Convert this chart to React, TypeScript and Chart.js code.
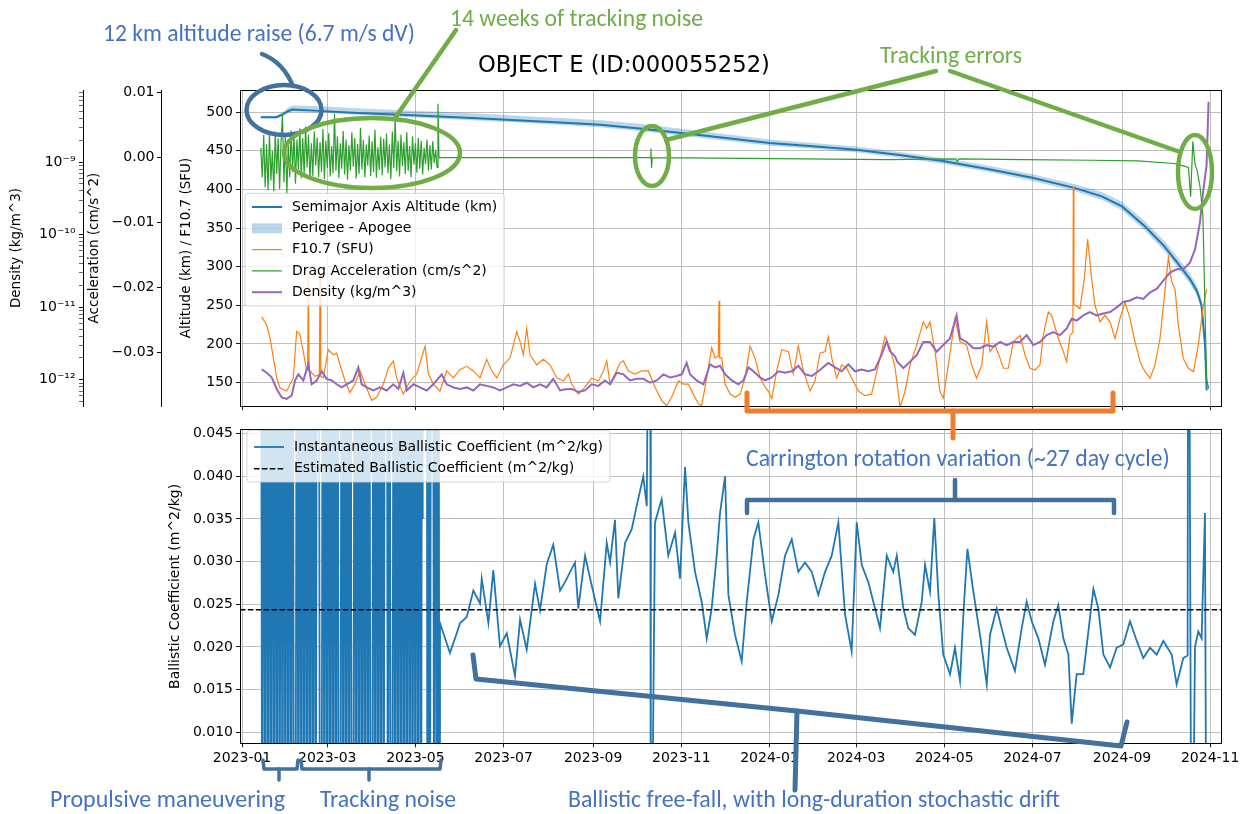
import React, { useEffect, useRef } from 'react';
import { Chart, registerables } from 'chart.js';

Chart.register(...registerables);

const MPL = "'DejaVu Sans', 'Liberation Sans', sans-serif";
const ANN = "Carlito, Lato, 'Open Sans', sans-serif";
const GRID = '#b8b8b8';

// x axis: days since 2023-01-01
const X_MIN = -1.4;
const X_MAX = 677.5;
const tickDays = [0, 59, 120, 181, 243, 304, 365, 425, 486, 547, 609, 670];
const tickLabels = ['2023-01', '2023-03', '2023-05', '2023-07', '2023-09', '2023-11', '2024-01', '2024-03', '2024-05', '2024-07', '2024-09', '2024-11'];

const altTicks = [150, 200, 250, 300, 350, 400, 450, 500];
const accTicks = [-0.03, -0.02, -0.01, 0, 0.01];
const bcTicks = [0.01, 0.015, 0.02, 0.025, 0.03, 0.035, 0.04, 0.045];
const denTickLabels: Record<string, string> = { '-12': '10⁻¹²', '-11': '10⁻¹¹', '-10': '10⁻¹⁰', '-9': '10⁻⁹' };

// Semimajor axis altitude and perigee/apogee (km)
const altDays = [13, 24, 28, 32, 35, 50, 80, 110, 137, 170, 200, 230, 248, 275, 304, 335, 365, 395, 425, 455, 486, 516, 547, 576, 595, 609, 625, 638, 647, 656, 661, 664, 666.4, 667.6];
const altSMA = [493.5, 493.5, 497, 501.5, 503.5, 502, 499, 496.5, 494.3, 491.5, 488.5, 485.5, 483.7, 479, 473, 466.5, 460, 456, 451.5, 444.5, 436.5, 426.5, 415, 402, 391, 378, 352, 327, 306, 284, 268, 250, 200, 140];
const altApogee = [495, 495.5, 500, 506, 508.5, 508, 505, 502.5, 500.5, 497.5, 494.5, 491.5, 489.5, 485, 478.5, 471.5, 464.5, 460, 455.5, 448.5, 440.5, 431, 419.5, 407, 396.5, 384, 358.5, 334, 313, 291, 275, 257, 208, 148];
const altPerigee = [492, 492, 494.5, 499, 501, 499.5, 496.5, 494, 491.5, 488.5, 485.5, 482.5, 480.5, 475.5, 469.5, 463, 456.5, 452.5, 448, 441, 433, 423, 411, 398, 386.5, 373, 346.5, 321, 300, 278, 262, 244, 193, 133];

// F10.7 (SFU)
const f107Days = [13.6, 17.1, 19.4, 21.7, 24, 26.3, 30.9, 35.5, 37.8, 40.1, 42.4, 44.7, 45.4, 45.9, 46.4, 47, 50.5, 53.5, 54, 54.5, 56.3, 59.7, 63.2, 65.5, 67.8, 71.3, 74.7, 78.2, 81.7, 85.1, 89.7, 93.2, 97.8, 101.3, 104.7, 107, 111.6, 116.3, 120.9, 126.7, 129, 132.4, 137, 141.6, 146.3, 150.9, 155.5, 160.1, 164.7, 169.3, 172.8, 176.3, 180.9, 185.5, 190.1, 192.4, 194.7, 197, 199.3, 203.9, 208.5, 213.1, 217.8, 222.4, 225.9, 228.1, 232.7, 237.4, 242, 246.6, 250.1, 252.4, 254.7, 258.1, 261.6, 263.9, 267.4, 272, 276.6, 281.2, 285.8, 290.4, 293.9, 297.3, 302, 305.4, 308.9, 312.3, 316, 318.1, 321.6, 325, 327.4, 329.6, 330.1, 330.6, 332, 334.3, 337.8, 341.2, 344.7, 348.1, 351.6, 355, 358.5, 362, 364.2, 366.6, 370, 373.5, 378.1, 381.5, 385, 388.5, 393.1, 396.5, 400, 403.5, 405.7, 408.1, 411.5, 415, 418.4, 421.9, 426.5, 431.1, 435.7, 440.4, 445, 448.4, 451.9, 455.4, 458.8, 462.3, 466.9, 471.5, 473.8, 476.1, 479.6, 483, 485.3, 488.8, 493.4, 496.9, 501.5, 504.9, 508.4, 511.9, 515.3, 517.6, 521.1, 524.6, 526.9, 530.3, 533.8, 538.4, 541.9, 545.3, 548.8, 552.2, 554.5, 558, 560.3, 564.9, 568.4, 570.7, 573, 575, 575.3, 575.7, 576.5, 579.9, 582.9, 585.2, 588, 590.3, 593.8, 597.2, 600.7, 604.2, 607.6, 611.1, 614.5, 618, 621.5, 624.9, 628.4, 631.8, 635.3, 638.8, 641.1, 643.4, 645.7, 648, 651.4, 654.9, 658.4, 661.8, 665.3, 667.6];
const f107Vals = [235, 224.5, 207, 182, 156, 143, 139, 156, 216, 212, 190, 165, 168, 290, 166, 165, 158, 160, 290, 158, 156, 192.5, 186, 188, 173, 152, 137, 148, 165, 148, 127, 131, 148, 169, 178, 156, 135, 152, 161, 197, 161, 148, 139, 165, 156, 167, 171, 165, 156, 180, 165, 156, 173, 182, 216, 203, 186, 220, 186, 173, 180, 173, 156, 152, 161, 148, 135, 144, 156, 152, 165, 178, 148, 161, 175.5, 178, 165, 161, 165, 165, 144, 127, 120, 131, 152, 148, 148, 135, 122, 120, 156, 195, 182, 184, 256, 182, 182, 148, 135, 131, 135, 156, 197, 182, 156, 144, 139, 129, 165, 192.5, 190, 161, 197, 165, 139, 152, 188, 190, 209.6, 182, 156, 173, 169, 156, 139, 133, 135, 173, 209.6, 195, 170, 118, 138.4, 172.7, 198.5, 228.5, 220, 228.5, 190, 138.4, 130, 172.7, 233, 202.8, 198.5, 172.7, 155.6, 172.7, 228.5, 190, 198.5, 181.3, 168.5, 168.5, 202.8, 211, 185.6, 168.5, 166.3, 172.7, 211, 241.3, 237, 207, 190, 177, 211, 215, 404, 252, 250, 245.6, 284, 335.7, 284, 250, 228.5, 237, 228.5, 207, 233, 254, 233, 202.8, 177, 164, 155.6, 172.7, 207, 271, 312, 280, 271, 224, 181, 168.5, 164, 198.5, 250, 271];

// Drag acceleration (cm/s^2)
const dragDays = [13, 14, 15, 16, 17, 18, 19, 20, 21, 22, 23, 24, 25, 26, 27, 28, 29, 30, 31, 32, 33, 34, 35, 36, 37, 38, 39, 40, 41, 42, 43, 44, 45, 46, 47, 48, 49, 50, 51, 52, 53, 54, 55, 56, 57, 58, 59, 60, 61, 62, 63, 64, 65, 66, 67, 68, 69, 70, 71, 72, 73, 74, 75, 76, 77, 78, 79, 80, 81, 82, 83, 84, 85, 86, 87, 88, 89, 90, 91, 92, 93, 94, 95, 96, 97, 98, 99, 100, 101, 102, 103, 104, 105, 106, 107, 108, 109, 110, 111, 112, 113, 114, 115, 116, 117, 118, 119, 120, 121, 122, 123, 124, 125, 126, 127, 128, 129, 130, 131, 132, 133, 134, 135, 135.6, 136.3, 282.5, 283, 283.4, 283.9, 350, 446, 494, 495, 496, 540, 588, 620, 645, 650, 655, 656.5, 658, 659.5, 661, 663, 665, 667.5, 669];
const dragVals = [0.0015, -0.003, 0.0035, -0.0045, 0.002, -0.005, 0.0038, -0.0035, 0.001, -0.0052, 0.004, -0.0025, 0.003, -0.0048, 0.0025, 0.0067, -0.0038, 0.0032, -0.0055, 0.002, -0.003, 0.0042, -0.0022, 0.0036, -0.004, 0.0028, -0.0018, 0.0045, -0.0032, 0.003, -0.0026, 0.0048, -0.0015, 0.0035, -0.0034, 0.0022, -0.0028, 0.004, -0.0012, 0.0031, -0.003, 0.0024, -0.0022, 0.0044, -0.0033, 0.0026, -0.0016, 0.0038, -0.0029, 0.0018, -0.0024, 0.0067, -0.002, 0.0033, -0.0031, 0.0022, -0.0017, 0.0041, -0.0026, 0.0028, -0.0034, 0.0019, -0.002, 0.0039, -0.0014, 0.003, -0.0032, 0.0021, -0.0025, 0.0046, -0.0018, 0.0027, -0.003, 0.002, -0.0012, 0.0034, -0.0028, 0.0025, -0.0022, 0.0043, -0.0031, 0.0016, -0.0019, 0.0032, -0.0027, 0.0029, -0.0015, 0.0037, -0.0024, 0.002, -0.0033, 0.004, -0.0016, 0.0061, -0.0021, 0.0026, -0.0029, 0.0035, -0.0013, 0.0024, -0.0025, 0.0039, -0.002, 0.0018, -0.003, 0.0033, -0.0011, 0.0022, -0.0023, 0.003, -0.0017, 0.0026, -0.0026, 0.0015, -0.001, 0.0028, -0.002, 0.0019, -0.0018, 0.0025, -0.0008, 0.0012, -0.0015, 0.0083, 0, 0, 0.0014, -0.0016, 0, -0.0001, -0.0003, -0.0002, -0.0006, -0.0002, -0.0003, -0.0004, -0.0005, -0.0009, -0.0012, -0.0015, -0.006, 0.0025, -0.001, -0.002, -0.0045, -0.009, -0.034, -0.0355];

// Density, in units of 1e-12 kg/m^3
const densDays = [13.6, 17.1, 20.5, 24, 27.5, 30.9, 34.4, 36.7, 39, 42.4, 45.9, 48.2, 51.7, 55.1, 58.6, 62.1, 65.5, 69, 72.4, 77, 80.5, 82.8, 86.3, 90.9, 95.5, 100.1, 104.7, 108.2, 111.6, 114, 118.6, 123.2, 127.8, 132.4, 138.2, 141.6, 146.3, 150.9, 155.5, 160.1, 164.7, 169.3, 173.9, 178.5, 183.2, 187.8, 192.4, 197, 201.6, 206.2, 210.8, 215.4, 220.1, 224, 228.1, 232.7, 237.4, 242, 246.6, 251.2, 254.7, 259.3, 263.9, 268.5, 273.1, 277.8, 282.4, 287, 291.6, 296.2, 300.8, 304.3, 307.7, 310, 314.6, 319.3, 323.9, 327.4, 330.8, 334.3, 338.9, 343.5, 347, 350.5, 353.9, 358.5, 362, 366.6, 371.2, 375.8, 380.4, 385, 389.6, 394.3, 398.8, 405.7, 410.4, 415, 419.6, 424.2, 428.8, 433.4, 438, 442.7, 446.1, 448.4, 451.9, 453.5, 457.7, 462.3, 466.9, 471.5, 476.1, 480.7, 485.3, 489.9, 494.5, 496.9, 501.5, 506.1, 510.7, 515.3, 519.9, 524.6, 529.2, 533.8, 538.4, 543, 547.6, 552.2, 556.9, 561.5, 566.1, 570.7, 574.2, 577.6, 582.2, 586.8, 591.4, 596.1, 600.7, 605.3, 609.9, 614.5, 619.2, 623.7, 628.4, 633, 637.6, 642.2, 646.8, 651.4, 656, 659.5, 662.9, 665.2, 667.5, 668.9];
const densE12 = [1.39, 1.25, 1.08, 0.748, 0.571, 0.545, 0.608, 0.979, 1.19, 0.979, 1.63, 0.867, 0.979, 1.31, 1.03, 0.979, 0.867, 0.785, 0.867, 0.979, 1.48, 0.867, 0.785, 0.713, 0.785, 0.713, 0.867, 0.748, 1.25, 0.713, 0.867, 0.785, 0.713, 0.867, 1.19, 0.867, 0.785, 0.748, 0.785, 0.713, 0.867, 0.824, 0.785, 0.713, 0.785, 0.867, 0.824, 0.91, 0.785, 0.867, 0.785, 1.03, 0.713, 0.74, 0.748, 0.679, 0.713, 0.867, 0.824, 0.979, 0.867, 1.25, 1.19, 0.979, 1.03, 1.03, 0.91, 0.979, 1.19, 1.08, 1.13, 1.19, 1.71, 1.19, 0.979, 0.867, 1.63, 1.48, 1.56, 1.19, 0.979, 0.867, 0.979, 1.48, 1.31, 1.08, 0.979, 1.08, 1.31, 1.25, 1.31, 1.56, 1.19, 1.13, 1.31, 1.71, 1.48, 1.31, 1.63, 1.31, 1.39, 1.31, 1.39, 2.24, 3.4, 2.47, 2.11, 1.78, 1.45, 1.78, 2.19, 3.32, 3.32, 2.44, 3.01, 3.71, 7.72, 3.71, 3.32, 2.72, 2.72, 3.01, 2.86, 3.32, 3.01, 3.32, 3.32, 4.13, 3.01, 3.32, 4.13, 4.55, 4.13, 5.08, 6.95, 6.56, 7.72, 8.59, 7.72, 8.18, 8.59, 9.95, 11.8, 12.4, 13.7, 13, 16, 17.9, 23.2, 30.1, 33.4, 33.4, 41.2, 62.7, 145, 400, 900, 6800];

// Instantaneous ballistic coefficient (m^2/kg); HI / LO are off-scale tracking-noise excursions
const HI = 0.09;
const LO = -0.02;
const bcDays = [13, 14, 15, 16, 17, 18, 19, 20, 21, 22, 23, 24, 25, 26, 27, 28, 29, 30, 31, 32, 33, 34, 35, 36, 37, 38, 39, 40, 41, 42, 43, 44, 45, 46, 47, 48, 49, 50, 51, 52, 53, 54, 55, 56, 57, 58, 59, 60, 61, 62, 63, 64, 65, 66, 67, 68, 69, 70, 71, 72, 73, 74, 75, 76, 77, 78, 79, 80, 81, 82, 83, 84, 85, 86, 87, 88, 89, 90, 91, 92, 93, 94, 95, 96, 97, 98, 99, 100, 101, 102, 103, 104, 105, 106, 107, 108, 109, 110, 111, 112, 113, 114, 115, 116, 117, 118, 119, 120, 121, 122, 123, 124, 124.6, 124.9, 125.2, 127.8, 128.3, 129, 130, 131, 132, 133, 134, 135, 136, 136.6,
  137, 141.7, 143.9, 148.6, 150.9, 155.5, 160.1, 164.7, 165.9, 170.5, 173.9, 178.5, 183.2, 188.9, 192.4, 197, 202.8, 206.2, 210.9, 215.4, 220.1, 223.5, 230.4, 232.7, 237.4, 242, 247.8, 252.4, 254.7, 258.1, 260.4, 265.1, 269.7, 273.1, 277.7, 280.1, 282.4, 282.9, 285.8, 290.4, 295, 299.7, 303.1, 306.6, 308.9, 313.5, 318.1, 321.6, 325, 328.5, 330.8, 334.3, 336.6, 341.2, 345.8, 349.3, 353.9, 357.3, 362, 366.6, 371.2, 375.8, 380.4, 385, 389.6, 394.3, 398.8, 403.5, 408.1, 412.7, 417.3, 421.9, 425.4, 428.9, 433.4, 438.1, 441.5, 446.2, 450.7, 453.1, 457.7, 461.1, 465.7, 470.4, 472.7, 476.1, 479.1, 481.9, 485.3, 490, 493.4, 496.9, 499.2, 502, 506.1, 510.7, 515.4, 517.6, 522.3, 525.7, 529.2, 534.9, 539.6, 543, 546.5, 551.1, 555.7, 561.5, 564.9, 568.4, 571.9, 574.2, 577.6, 582.2, 585.7, 589.2, 592.6, 596.1, 600.7, 605.3, 609.9, 614.5, 619.2, 623.7, 628.4, 633, 637.6, 643.4, 646.8, 651.4, 654.4, 654.9, 657.2, 659.5, 661.8, 664.1, 666.4, 667.6];
const bcVals = [HI, LO, HI, LO, HI, LO, HI, LO, HI, LO, HI, LO, HI, LO, HI, LO, HI, LO, HI, LO, HI, LO, HI, LO, LO, HI, LO, HI, LO, HI, LO, HI, LO, HI, LO, HI, LO, HI, LO, HI, HI, LO, LO, HI, LO, HI, LO, HI, LO, HI, LO, HI, LO, HI, LO, LO, HI, LO, HI, LO, HI, LO, HI, LO, LO, HI, LO, HI, LO, HI, LO, HI, LO, HI, LO, HI, LO, LO, HI, LO, HI, LO, HI, LO, HI, LO, HI, HI, LO, HI, LO, LO, HI, LO, HI, LO, HI, LO, HI, LO, HI, LO, HI, LO, HI, LO, HI, LO, HI, LO, HI, LO, HI, 0.035, HI, HI, LO, HI, LO, HI, HI, LO, HI, LO, HI, LO,
  0.0228, 0.0204, 0.0193, 0.0216, 0.0228, 0.0235, 0.0266, 0.0251, 0.028, 0.0228, 0.029, 0.0201, 0.0216, 0.0166, 0.0232, 0.0197, 0.0274, 0.0243, 0.0297, 0.032, 0.0266, 0.0276, 0.0299, 0.0245, 0.0307, 0.0272, 0.023, 0.0322, 0.0299, 0.0349, 0.0257, 0.0322, 0.0338, 0.0365, 0.04, 0.0365, HI, LO, 0.0346, 0.0373, 0.0307, 0.0334, 0.028, 0.0411, 0.0346, 0.0288, 0.0253, 0.021, 0.0245, 0.0307, 0.0357, 0.04, 0.0261, 0.0214, 0.0183, 0.0253, 0.0326, 0.0346, 0.0284, 0.023, 0.0261, 0.0307, 0.0326, 0.0288, 0.0299, 0.0288, 0.0261, 0.0288, 0.0307, 0.0346, 0.0238, 0.0195, 0.0346, 0.0296, 0.0276, 0.0245, 0.0222, 0.0307, 0.0288, 0.0307, 0.0245, 0.0222, 0.0214, 0.0253, 0.0296, 0.0265, 0.0351, 0.0261, 0.0191, 0.0168, 0.0199, 0.016, 0.0238, 0.0315, 0.0265, 0.0214, 0.0156, 0.0214, 0.0245, 0.0222, 0.0199, 0.0172, 0.0222, 0.0253, 0.023, 0.021, 0.0179, 0.023, 0.0249, 0.021, 0.0191, 0.011, 0.0168, 0.0168, 0.0218, 0.0268, 0.0245, 0.0191, 0.0176, 0.0199, 0.0203, 0.023, 0.0207, 0.0187, 0.0199, 0.0191, 0.0207, 0.0191, 0.0156, 0.0187, 0.019, HI, LO, 0.02, 0.0218, 0.021, 0.0357, LO];
const estimatedBC = 0.02435;

function pts(days: number[], vals: number[], unit = 1) {
  return days.map((d, i) => ({ x: d, y: vals[i] * unit }));
}

function xScale(showLabels: boolean, height: number) {
  return {
    type: 'linear',
    min: X_MIN,
    max: X_MAX,
    afterBuildTicks: (s: any) => { s.ticks = tickDays.map((v) => ({ value: v })); },
    afterFit: (s: any) => { s.height = height; },
    ticks: {
      display: showLabels,
      autoSkip: false,
      maxRotation: 0,
      padding: 3,
      color: '#000',
      font: { family: MPL, size: 14 },
      callback: (_v: any, i: number) => tickLabels[i],
    },
    grid: { color: GRID, lineWidth: 0.9, tickColor: '#000', tickLength: 4, drawTicks: true },
    border: { display: false },
  };
}

function roundRectPath(ctx: CanvasRenderingContext2D, x: number, y: number, w: number, h: number, r: number) {
  ctx.beginPath();
  ctx.moveTo(x + r, y);
  ctx.lineTo(x + w - r, y);
  ctx.arcTo(x + w, y, x + w, y + r, r);
  ctx.lineTo(x + w, y + h - r);
  ctx.arcTo(x + w, y + h, x + w - r, y + h, r);
  ctx.lineTo(x + r, y + h);
  ctx.arcTo(x, y + h, x, y + h - r, r);
  ctx.lineTo(x, y + r);
  ctx.arcTo(x, y, x + r, y, r);
  ctx.closePath();
}

function drawFrameAndLegend(chart: any, opts: any) {
  const ctx: CanvasRenderingContext2D = chart.ctx;
  const ca = chart.chartArea;
  ctx.save();
  ctx.strokeStyle = '#000';
  ctx.lineWidth = 1;
  ctx.strokeRect(Math.round(ca.left) + 0.5, Math.round(ca.top) + 0.5, Math.round(ca.right - ca.left), Math.round(ca.bottom - ca.top));
  const items = chart.data.datasets.filter((d: any) => d.legendKind);
  ctx.font = `14px ${MPL}`;
  const maxW = Math.max(...items.map((d: any) => ctx.measureText(d.label).width));
  const x0 = ca.left + opts.dx;
  const y0 = ca.top + opts.dy;
  const w = 47 + maxW + 7;
  const h = opts.first + (items.length - 1) * opts.row + opts.last;
  roundRectPath(ctx, x0, y0, w, h, 3);
  ctx.fillStyle = 'rgba(255,255,255,0.8)';
  ctx.fill();
  ctx.strokeStyle = 'rgba(204,204,204,0.8)';
  ctx.stroke();
  items.forEach((d: any, i: number) => {
    const yc = y0 + opts.first + i * opts.row;
    const hx = x0 + 7;
    if (d.legendKind === 'patch') {
      ctx.fillStyle = d.backgroundColor;
      ctx.fillRect(hx, yc - 5, 30, 10);
    } else {
      ctx.beginPath();
      ctx.setLineDash(d.borderDash || []);
      ctx.strokeStyle = d.borderColor;
      ctx.lineWidth = d.borderWidth;
      ctx.moveTo(hx, yc);
      ctx.lineTo(hx + 30, yc);
      ctx.stroke();
      ctx.setLineDash([]);
    }
    ctx.fillStyle = '#000';
    ctx.textAlign = 'left';
    ctx.textBaseline = 'middle';
    ctx.fillText(d.label, x0 + 47, yc);
  });
  ctx.restore();
}

function fitText(ctx: CanvasRenderingContext2D, text: string, x0: number, x1: number, yc: number, color: string, family: string) {
  ctx.save();
  ctx.font = `20px ${family}`;
  const w = ctx.measureText(text).width;
  const size = (20 * (x1 - x0)) / w;
  ctx.font = `${size.toFixed(2)}px ${family}`;
  ctx.fillStyle = color;
  ctx.textAlign = 'left';
  ctx.textBaseline = 'middle';
  ctx.fillText(text, x0, yc);
  ctx.restore();
}

function ellipse(ctx: CanvasRenderingContext2D, cx: number, cy: number, rx: number, ry: number, color: string, lw: number) {
  ctx.save();
  ctx.beginPath();
  ctx.ellipse(cx, cy, rx, ry, 0, 0, Math.PI * 2);
  ctx.strokeStyle = color;
  ctx.lineWidth = lw;
  ctx.stroke();
  ctx.restore();
}

function poly(ctx: CanvasRenderingContext2D, p: number[][], color: string, lw: number, dy = 0) {
  ctx.save();
  ctx.beginPath();
  p.forEach(([x, y], i) => (i === 0 ? ctx.moveTo(x, y - dy) : ctx.lineTo(x, y - dy)));
  ctx.strokeStyle = color;
  ctx.lineWidth = lw;
  ctx.lineJoin = 'round';
  ctx.lineCap = 'round';
  ctx.stroke();
  ctx.restore();
}

const BLUE_TXT = '#4472C4';
const BLUE_SHP = '#41719C';
const GREEN = '#70AD47';
const ORANGE = '#ED7D31';
const BOTTOM_TOP = 418;

const topPlugin = {
  id: 'topDecor',
  afterDatasetsDraw(chart: any) {
    drawFrameAndLegend(chart, { dx: 5, dy: 103.3, first: 13.7, row: 21.3, last: 13.7 });
  },
  afterDraw(chart: any) {
    const ctx: CanvasRenderingContext2D = chart.ctx;
    fitText(ctx, 'OBJECT E (ID:000055252)', 478, 770, 66, '#000', MPL);
    fitText(ctx, '12 km altitude raise (6.7 m/s dV)', 103, 415, 35, BLUE_TXT, ANN);
    fitText(ctx, '14 weeks of tracking noise', 450, 703, 20, GREEN, ANN);
    fitText(ctx, 'Tracking errors', 880, 1022, 57, GREEN, ANN);
    ellipse(ctx, 284, 110, 37.5, 25, BLUE_SHP, 4.5);
    ctx.save();
    ctx.beginPath();
    ctx.moveTo(262, 54);
    ctx.quadraticCurveTo(283, 62, 293, 86);
    ctx.strokeStyle = BLUE_SHP;
    ctx.lineWidth = 4.5;
    ctx.lineCap = 'round';
    ctx.stroke();
    ctx.restore();
    ellipse(ctx, 372, 153, 88, 35, GREEN, 4.5);
    poly(ctx, [[395, 118], [456, 30]], GREEN, 4.5);
    poly(ctx, [[936, 71], [666, 140]], GREEN, 4.5);
    poly(ctx, [[950, 71], [1180, 152]], GREEN, 4.5);
    ellipse(ctx, 652, 156, 17, 30, GREEN, 4.5);
    ellipse(ctx, 1195, 172, 17, 37, GREEN, 4.5);
    poly(ctx, [[747, 393], [747, 411], [1113, 411], [1113, 393]], ORANGE, 5);
    poly(ctx, [[953, 411], [953, 425]], ORANGE, 5);
  },
};

const bottomPlugin = {
  id: 'bottomDecor',
  afterDatasetsDraw(chart: any) {
    drawFrameAndLegend(chart, { dx: 7, dy: 1, first: 16.6, row: 21.7, last: 13.3 });
  },
  afterDraw(chart: any) {
    const ctx: CanvasRenderingContext2D = chart.ctx;
    const d = BOTTOM_TOP;
    poly(ctx, [[953, 410], [953, 438]], ORANGE, 5, d);
    fitText(ctx, 'Carrington rotation variation (~27 day cycle)', 746, 1170, 460 - d, BLUE_TXT, ANN);
    poly(ctx, [[747, 513], [747, 500], [1114, 500], [1114, 513]], BLUE_SHP, 4.5, d);
    poly(ctx, [[955, 500], [955, 480]], BLUE_SHP, 4.5, d);
    poly(ctx, [[473, 655], [476, 679], [797, 711], [1121, 746], [1127, 722]], BLUE_SHP, 5, d);
    poly(ctx, [[797, 711], [795, 790]], BLUE_SHP, 5, d);
    poly(ctx, [[263, 760], [264, 769], [297, 769], [298, 760]], BLUE_SHP, 3.5, d);
    poly(ctx, [[279, 769], [279, 780]], BLUE_SHP, 3.5, d);
    poly(ctx, [[301, 760], [302, 769], [440, 769], [441, 760]], BLUE_SHP, 3.5, d);
    poly(ctx, [[369, 769], [369, 780]], BLUE_SHP, 3.5, d);
    fitText(ctx, 'Propulsive maneuvering', 50, 285, 801 - d, BLUE_TXT, ANN);
    fitText(ctx, 'Tracking noise', 320, 456, 801 - d, BLUE_TXT, ANN);
    fitText(ctx, 'Ballistic free-fall, with long-duration stochastic drift', 568, 1060, 801 - d, BLUE_TXT, ANN);
  },
};

const tickFont = { family: MPL, size: 14 };
const titleFont = { family: MPL, size: 13.5 };

function denLabel(v: number) {
  const e = Math.log10(v);
  const r = Math.round(e);
  if (Math.abs(e - r) < 1e-6 && denTickLabels[String(r)]) return denTickLabels[String(r)];
  return '';
}

export default function App() {
  const topRef = useRef<HTMLCanvasElement>(null);
  const botRef = useRef<HTMLCanvasElement>(null);

  useEffect(() => {
    const DEN_MIN = 4.34e-13;
    const DEN_MAX = 9.86e-9;
    const top = new Chart(topRef.current as HTMLCanvasElement, {
      type: 'line',
      data: {
        datasets: [
          { label: 'Semimajor Axis Altitude (km)', data: pts(altDays, altSMA), borderColor: '#1f77b4', borderWidth: 2, yAxisID: 'y', order: 5, legendKind: 'line' },
          { label: 'Perigee - Apogee', data: pts(altDays, altApogee), borderColor: 'rgba(0,0,0,0)', borderWidth: 0, backgroundColor: 'rgba(31,119,180,0.3)', fill: '+1', yAxisID: 'y', order: 6, legendKind: 'patch' },
          { label: 'perigee', data: pts(altDays, altPerigee), borderColor: 'rgba(0,0,0,0)', borderWidth: 0, fill: false, yAxisID: 'y', order: 6 },
          { label: 'F10.7 (SFU)', data: pts(f107Days, f107Vals), borderColor: '#ff7f0e', borderWidth: 1.2, yAxisID: 'y', order: 4, legendKind: 'line' },
          { label: 'Drag Acceleration (cm/s^2)', data: pts(dragDays, dragVals), borderColor: '#2ca02c', borderWidth: 1.2, yAxisID: 'yAcc', order: 3, legendKind: 'line' },
          { label: 'Density (kg/m^3)', data: pts(densDays, densE12, 1e-12), borderColor: '#9467bd', borderWidth: 2, yAxisID: 'yDen', order: 2, legendKind: 'line' },
        ] as any,
      },
      options: {
        responsive: false,
        animation: false,
        events: [],
        layout: { padding: { left: 0, right: 23, top: 90, bottom: 4 } },
        elements: { point: { radius: 0 }, line: { tension: 0 } },
        plugins: { legend: { display: false }, tooltip: { enabled: false } },
        scales: {
          x: xScale(false, 4) as any,
          y: {
            type: 'linear', position: 'left', weight: 0, min: 119.5, max: 528.7,
            afterBuildTicks: (s: any) => { s.ticks = altTicks.map((v) => ({ value: v })); },
            afterFit: (s: any) => { s.width = 79; },
            ticks: { color: '#000', font: tickFont, padding: 3, callback: (v: any) => String(v) },
            grid: { color: GRID, lineWidth: 0.9, tickColor: '#000', tickLength: 4 },
            border: { display: true, color: '#000', width: 1 },
            title: { display: true, text: 'Altitude (km) / F10.7 (SFU)', color: '#000', font: titleFont, padding: { top: 17.6, bottom: 0 } },
          },
          yAcc: {
            axis: 'y', type: 'linear', position: 'left', weight: 1, min: -0.0382, max: 0.0104,
            afterBuildTicks: (s: any) => { s.ticks = accTicks.map((v) => ({ value: v })); },
            afterFit: (s: any) => { s.width = 78; },
            ticks: { color: '#000', font: tickFont, padding: 2.5, callback: (v: any) => (Math.abs(v) < 1e-9 ? '0.00' : (v < 0 ? '\u2212' : '') + Math.abs(v).toFixed(2)) },
            grid: { drawOnChartArea: false, tickColor: '#000', tickLength: 4 },
            border: { display: true, color: '#000', width: 1 },
            title: { display: true, text: 'Acceleration (cm/s^2)', color: '#000', font: titleFont, padding: { top: 3.6, bottom: 0 } },
          },
          yDen: {
            axis: 'y', type: 'logarithmic', position: 'left', weight: 2, min: DEN_MIN, max: DEN_MAX,
            afterBuildTicks: (s: any) => {
              const t: any[] = [];
              for (let e = -13; e <= -9; e++) {
                for (let m = 1; m <= 9; m++) {
                  const v = m * Math.pow(10, e);
                  if (v >= DEN_MIN && v <= DEN_MAX) t.push({ value: v });
                }
              }
              s.ticks = t;
            },
            afterFit: (s: any) => { s.width = 83; },
            ticks: { color: '#000', font: tickFont, padding: 3.5, autoSkip: false, callback: (v: any) => denLabel(v) },
            grid: {
              drawOnChartArea: false, tickColor: '#000', tickLength: 4,
              tickWidth: (c: any) => (c.tick && denLabel(c.tick.value) ? 1 : 0.6),
            },
            border: { display: true, color: '#000', width: 1 },
            title: { display: true, text: 'Density (kg/m^3)', color: '#000', font: titleFont, padding: { top: 8.6, bottom: 0 } },
          },
        } as any,
      },
      plugins: [topPlugin],
    } as any);

    const bottom = new Chart(botRef.current as HTMLCanvasElement, {
      type: 'line',
      data: {
        datasets: [
          { label: 'Instantaneous Ballistic Coefficient (m^2/kg)', data: pts(bcDays, bcVals), borderColor: '#1f77b4', borderWidth: 1.8, order: 2, legendKind: 'line' },
          { label: 'Estimated Ballistic Coefficient (m^2/kg)', data: [{ x: X_MIN, y: estimatedBC }, { x: X_MAX, y: estimatedBC }], borderColor: '#000', borderWidth: 1.6, borderDash: [5.5, 2.4], order: 1, legendKind: 'line' },
        ] as any,
      },
      options: {
        responsive: false,
        animation: false,
        events: [],
        layout: { padding: { left: 160, right: 23, top: 7.7, bottom: 40.7 } },
        elements: { point: { radius: 0 }, line: { tension: 0 } },
        plugins: { legend: { display: false }, tooltip: { enabled: false } },
        scales: {
          x: xScale(true, 30) as any,
          y: {
            type: 'linear', position: 'left', min: 0.0087, max: 0.0455,
            afterBuildTicks: (s: any) => { s.ticks = bcTicks.map((v) => ({ value: v })); },
            afterFit: (s: any) => { s.width = 80; },
            ticks: { color: '#000', font: tickFont, padding: 3, callback: (v: any) => Number(v).toFixed(3) },
            grid: { color: GRID, lineWidth: 0.9, tickColor: '#000', tickLength: 4 },
            border: { display: true, color: '#000', width: 1 },
            title: { display: true, text: 'Ballistic Coefficient (m^2/kg)', color: '#000', font: { family: MPL, size: 14 }, padding: { top: 6.6, bottom: 0 } },
          },
        } as any,
      },
      plugins: [bottomPlugin],
    } as any);

    return () => {
      top.destroy();
      bottom.destroy();
    };
  }, []);

  return (
    <div style={{ position: 'fixed', left: 0, top: 0, width: 1244, height: 814, background: '#fff', overflow: 'hidden' }}>
      <canvas ref={topRef} width={1244} height={418} style={{ position: 'absolute', left: 0, top: 0, width: 1244, height: 418 }} />
      <canvas ref={botRef} width={1244} height={396} style={{ position: 'absolute', left: 0, top: BOTTOM_TOP, width: 1244, height: 396 }} />
    </div>
  );
}
